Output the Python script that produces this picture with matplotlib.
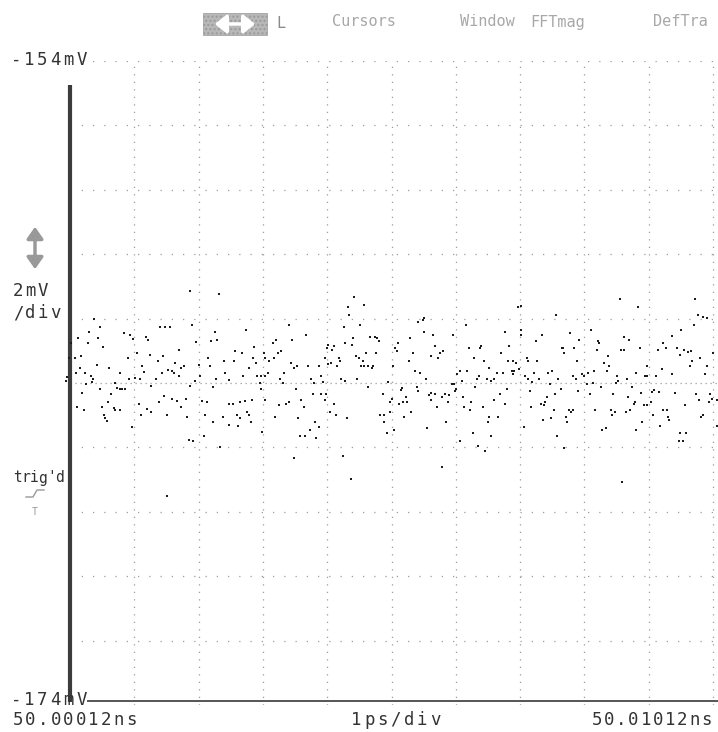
import numpy as np
import matplotlib
matplotlib.use("Agg")
import matplotlib.pyplot as plt
from matplotlib.patches import Rectangle, FancyArrowPatch
from matplotlib.lines import Line2D

W, H = 718, 732

# screen settings (scope readout)
t_left, t_right = "50.00012ns", "50.01012ns"
v_top, v_bot = "-154mV", "-174mV"
v_min, v_max = -174.0, -154.0
n_div = 10
menu = ["Cursors", "Window", "FFTmag", "DefTra"]

# samples: (time in ps from left edge, level in mV)
seg1 = [(1.87,-161.15),(2.32,-161.24),(0.38,-162.01),(1.40,-162.27),(1.48,-162.27),(1.55,-162.27),
        (1.90,-162.19),(0.46,-162.27),(0.29,-162.43),(0.84,-162.45),(0.94,-162.51),(0.98,-162.63),
        (1.18,-162.58),(1.22,-162.65),(0.13,-162.60),(0.43,-162.60),(2.26,-162.43),(2.20,-162.69),
        (2.28,-162.66),(0.02,-162.76),(0.28,-162.76),(1.96,-162.74),(0.51,-162.89),(1.69,-162.98),
        (1.04,-163.07),(0.17,-163.15),(1.25,-163.13),(1.44,-163.15),(-0.01,-163.22),(0.07,-163.23),
        (0.90,-163.22),(2.15,-163.22),(1.37,-163.31),(2.39,-163.31),(1.64,-163.38),(1.77,-163.46),
        (1.73,-163.54),(2.00,-163.43),(0.42,-163.44),(2.18,-163.46),(1.12,-163.46),(0.15,-163.54),
        (0.61,-163.54),(1.53,-163.60),(1.59,-163.64),(1.61,-163.70),(0.09,-163.70),(0.23,-163.70),
        (1.15,-163.67),(1.43,-163.70),(0.77,-163.70),(2.41,-163.70),(0.32,-163.77),(0.35,-163.88),
        (-0.05,-163.80),(1.69,-163.79),(2.02,-163.77),(1.01,-163.84),(2.27,-163.88),(0.91,-163.88),
        (1.34,-163.88),(-0.06,-163.95),(0.34,-163.96),(0.70,-164.01),(1.09,-163.88),(1.95,-163.95),
        (2.47,-163.91),(0.25,-164.03),(1.26,-164.08),(1.87,-164.08),(2.23,-164.11),(0.73,-164.17),
        (0.77,-164.19),(0.81,-164.19),(0.86,-164.19),(0.47,-164.19),(0.19,-164.32),(0.64,-164.34),
        (1.46,-164.41),(1.59,-164.50),(1.66,-164.55),(1.80,-164.50),(1.38,-164.58),(0.59,-164.60),
        (2.05,-164.57),(2.13,-164.60),(2.47,-164.65),(1.07,-164.65),(0.11,-164.76),(1.72,-164.76),
        (0.21,-164.84),(0.50,-164.76),(0.68,-164.79),(0.70,-164.84),(0.78,-164.83),(1.20,-164.81),
        (1.26,-164.89),(1.10,-164.98),(1.51,-164.99),(2.10,-164.99),(0.53,-164.99),(0.55,-165.10),
        (0.58,-165.17),(1.82,-165.07),(2.38,-165.07),(2.22,-165.22),(2.48,-165.30),(0.96,-165.38),
        (2.09,-165.64),(1.85,-165.77),(1.92,-165.79),(2.34,-166.00),(1.51,-167.51)]

seg2 = [(4.42,-161.32),(4.58,-161.57),(4.32,-161.65),(4.34,-161.89),(3.41,-162.20),(4.26,-162.27),
        (4.51,-162.20),(2.73,-162.34),(3.67,-162.51),(3.21,-162.65),(3.15,-162.76),(3.46,-162.66),
        (4.40,-162.60),(4.67,-162.58),(4.74,-162.58),(4.77,-162.60),(4.80,-162.69),(4.27,-162.76),
        (4.38,-162.82),(2.86,-162.89),(4.01,-162.82),(4.11,-162.84),(4.00,-162.91),(4.08,-162.98),
        (2.57,-163.00),(2.67,-163.08),(3.01,-163.08),(3.23,-163.08),(3.28,-163.00),(4.45,-163.15),
        (4.49,-163.22),(4.61,-163.08),(4.76,-163.08),(2.85,-163.22),(3.03,-163.22),(3.10,-163.33),
        (3.17,-163.22),(2.55,-163.33),(3.97,-163.22),(4.18,-163.22),(4.20,-163.33),(4.55,-163.33),
        (2.89,-163.39),(3.43,-163.38),(4.01,-163.41),(4.06,-163.39),(4.16,-163.46),(4.53,-163.46),
        (4.57,-163.46),(4.63,-163.46),(4.71,-163.46),(4.69,-163.54),(3.70,-163.46),(3.88,-163.46),
        (3.53,-163.46),(3.48,-163.54),(5.02,-163.46),(2.79,-163.54),(3.08,-163.70),(3.04,-163.77),
        (3.33,-163.70),(2.69,-163.79),(2.91,-163.79),(2.97,-163.77),(3.27,-163.88),(3.75,-163.88),
        (3.90,-163.79),(4.22,-163.88),(4.28,-163.93),(4.47,-163.88),(2.95,-164.01),(2.97,-164.19),
        (3.31,-164.01),(3.79,-164.01),(3.93,-163.96),(4.63,-164.11),(4.94,-163.96),(3.51,-164.19),
        (3.78,-164.34),(3.91,-164.34),(3.98,-164.34),(4.87,-164.34),(2.53,-164.65),(2.72,-164.55),
        (2.83,-164.52),(3.04,-164.52),(2.64,-164.60),(3.25,-164.67),(3.36,-164.65),(3.40,-164.60),
        (3.60,-164.52),(3.96,-164.52),(4.10,-164.65),(4.98,-164.58),(5.01,-164.50),(3.64,-164.76),
        (4.04,-164.89),(4.14,-164.99),(2.60,-164.99),(2.64,-165.10),(2.76,-164.91),(2.78,-164.99),
        (3.19,-165.07),(3.55,-165.09),(4.31,-165.09),(4.97,-164.91),(4.82,-164.98),(4.88,-164.98),
        (2.81,-165.22),(3.81,-165.22),(4.89,-165.22),(2.61,-165.33),(3.87,-165.38),(3.74,-165.46),
        (4.93,-165.55),(2.98,-165.53),(3.58,-165.64),(3.65,-165.64),(3.83,-165.71),(4.24,-166.28),
        (3.49,-166.34),(4.37,-166.98)]

seg3 = [(6.97,-161.65),(7.01,-161.60),(7.56,-161.88),(5.41,-162.12),(5.49,-162.04),(5.51,-161.99),
        (6.16,-162.20),(5.51,-162.43),(5.65,-162.51),(5.95,-162.51),(6.76,-162.43),(7.01,-162.35),
        (7.02,-162.51),(7.34,-162.51),(5.28,-162.60),(5.10,-162.76),(5.68,-162.84),(6.83,-162.84),
        (7.24,-162.69),(6.39,-162.84),(6.37,-162.92),(5.06,-162.92),(5.09,-163.00),(6.20,-162.91),
        (5.80,-163.00),(5.76,-163.08),(5.33,-163.08),(5.61,-163.15),(5.73,-163.22),(6.70,-163.08),
        (7.65,-162.91),(6.28,-163.22),(6.44,-163.33),(7.10,-163.22),(7.13,-163.33),(7.27,-163.31),
        (5.27,-163.33),(6.81,-163.31),(6.89,-163.33),(6.94,-163.39),(6.52,-163.54),(5.37,-163.64),
        (5.45,-163.70),(6.07,-163.64),(6.18,-163.64),(6.02,-163.72),(6.36,-163.79),(6.33,-163.88),
        (6.64,-163.70),(6.73,-163.70),(6.87,-163.64),(6.91,-163.64),(6.89,-163.72),(6.98,-163.57),
        (7.07,-163.77),(7.21,-163.70),(7.43,-163.70),(7.50,-163.64),(5.53,-163.88),(6.49,-163.88),
        (6.55,-163.93),(6.60,-163.88),(7.12,-163.88),(7.19,-163.96),(7.29,-163.88),(7.59,-163.88),
        (5.94,-164.03),(5.97,-164.03),(6.10,-163.93),(6.30,-164.11),(5.17,-164.17),(5.15,-164.22),
        (5.39,-164.11),(6.01,-164.19),(5.41,-164.26),(6.80,-164.19),(7.16,-164.26),(7.46,-164.03),
        (7.63,-164.19),(5.58,-164.36),(5.61,-164.32),(5.67,-164.34),(5.83,-164.34),(5.89,-164.37),
        (5.23,-164.42),(5.79,-164.45),(5.98,-164.26),(6.69,-164.34),(7.54,-164.34),(7.42,-164.42),
        (5.62,-164.52),(5.18,-164.58),(5.24,-164.60),(5.88,-164.60),(6.59,-164.52),(6.11,-164.45),
        (6.24,-164.60),(5.11,-164.65),(7.32,-164.65),(7.39,-164.60),(7.37,-164.67),(6.77,-164.65),
        (5.70,-164.76),(6.13,-164.76),(6.22,-164.84),(6.42,-164.76),(7.17,-164.76),(7.52,-164.83),
        (5.31,-164.89),(5.20,-165.07),(6.51,-165.07),(6.66,-165.07),(7.48,-165.09),(7.36,-165.15),
        (5.85,-165.22),(6.50,-165.22),(7.06,-165.38),(5.55,-165.40),(5.04,-165.46),(6.26,-165.55),
        (6.55,-165.64),(7.57,-165.64),(6.06,-165.79),(6.34,-165.95),(6.46,-166.10),(5.78,-166.60)]

seg4 = [(8.55,-161.39),(9.72,-161.39),(8.84,-161.65),(9.76,-161.88),(9.85,-161.94),(9.90,-161.99),
        (9.71,-162.19),(8.10,-162.35),(9.51,-162.35),(7.78,-162.45),(8.62,-162.58),(8.70,-162.66),
        (9.36,-162.53),(7.91,-162.66),(8.21,-162.69),(8.22,-162.77),(9.22,-162.76),(7.66,-162.91),
        (7.84,-162.91),(8.87,-162.91),(9.27,-162.91),(9.44,-162.91),(9.55,-162.98),(9.61,-163.03),
        (9.66,-163.02),(7.69,-163.08),(8.20,-162.98),(8.57,-162.98),(8.61,-162.98),(9.14,-162.98),
        (8.37,-163.15),(9.80,-163.22),(9.48,-163.13),(10.00,-163.08),(7.88,-163.33),(8.31,-163.39),
        (8.39,-163.46),(9.67,-163.31),(8.97,-163.46),(9.90,-163.46),(9.21,-163.57),(9.64,-163.46),
        (8.35,-163.64),(8.15,-163.64),(7.82,-163.79),(7.87,-163.88),(7.96,-163.72),(8.00,-163.79),
        (8.06,-163.70),(8.51,-163.79),(8.80,-163.70),(8.94,-163.79),(8.98,-163.79),(9.12,-163.79),
        (9.37,-163.72),(9.88,-163.72),(8.66,-163.88),(8.49,-164.01),(8.52,-163.93),(8.04,-164.03),
        (8.13,-164.01),(8.26,-164.11),(7.90,-164.26),(8.74,-164.11),(8.08,-164.34),(8.45,-164.34),
        (8.88,-164.32),(9.05,-164.27),(9.09,-164.22),(9.16,-164.27),(9.41,-164.32),(9.73,-164.34),
        (9.96,-164.34),(8.68,-164.45),(9.79,-164.52),(8.79,-164.60),(8.77,-164.65),(8.93,-164.67),
        (8.98,-164.67),(9.03,-164.60),(9.56,-164.67),(9.94,-164.58),(9.99,-164.50),(10.06,-164.53),
        (7.76,-164.83),(7.79,-164.91),(7.83,-164.83),(8.17,-164.83),(8.41,-164.83),(8.47,-164.89),
        (8.43,-164.99),(8.65,-164.89),(8.71,-164.83),(9.23,-164.83),(9.28,-164.84),(9.07,-164.99),
        (7.72,-165.07),(7.73,-165.22),(9.30,-165.07),(9.31,-165.15),(9.81,-165.07),(9.84,-164.99),
        (10.06,-165.33),(8.90,-165.22),(9.18,-165.33),(8.27,-165.46),(8.33,-165.40),(8.81,-165.46),
        (9.49,-165.55),(9.58,-165.55),(9.47,-165.79),(9.54,-165.79),(7.68,-166.02),(8.59,-167.06)]

pts = np.array(seg1 + seg2 + seg3 + seg4)
t_ps = pts[:, 0]
v_mv = pts[:, 1]

fig = plt.figure(figsize=(W / 100, H / 100), dpi=100)
fig.patch.set_facecolor("white")

# plot area: x 70..718 px, y 61..705 px
ax = fig.add_axes([70 / W, 27 / H, 648 / W, 644 / H])
ax.set_xlim(0, 648 / 64.3)
ax.set_ylim(v_min, v_max)
ax.axis("off")

grid_c = "#9c9c9c"
for k in range(1, n_div + 1):
    ax.axvline(k, color=grid_c, lw=0.9, ls=(0, (1, 5)))
for lv in np.arange(v_min + 2, v_max + 1, 2):
    if lv == -164:
        ax.axhline(lv, color=grid_c, lw=0.9, ls=(0, (1, 3)))
    else:
        ax.axhline(lv, color=grid_c, lw=0.9, ls=(0, (1, 8)))

# left axis bar and bottom rule
ax.plot([0, 0], [-154.75, -173.9], color="#3c3c3c", lw=3, solid_capstyle="butt", clip_on=False)
ax.plot([0.28, 648 / 64.3], [-173.88, -173.88], color="#555555", lw=1.4, clip_on=False)

ax.scatter(t_ps, v_mv, s=3, marker="s", c="#1c1c1c", linewidths=0, clip_on=False, zorder=3)


def screen_text(x0, y0, s, pitch, size=12.5, color="#333333"):
    # fixed-pitch placement like the scope's bitmap font
    for i, ch in enumerate(s):
        fig.text((x0 + i * pitch) / W, 1 - y0 / H, ch, ha="center", va="center",
                 family="DejaVu Sans Mono", fontsize=size, color=color)


screen_text(16, 60, v_top, 13.2)
screen_text(16, 700, v_bot, 13.2)
screen_text(18, 720, t_left, 12.6)
screen_text(356, 720, "1ps/div", 13.2)
screen_text(597, 720, t_right, 12.2)
screen_text(18, 291, "2mV", 12.5)
screen_text(18, 313, "/div", 12.5)
screen_text(17, 478, "trig'd", 8.6, size=10.5)

# vertical scale arrow icon
fig.patches.append(FancyArrowPatch((35 / W, 1 - 272 / H), (35 / W, 1 - 224 / H),
                                   transform=fig.transFigure, arrowstyle="<|-|>,head_length=0.5,head_width=0.35",
                                   mutation_scale=14, color="#999999", lw=2.5))
# trigger slope icon
fig.lines.append(Line2D(np.array([26, 33, 37, 44]) / W, 1 - np.array([497, 497, 490, 490]) / H,
                        transform=fig.transFigure, color="#999999", lw=1))
fig.text(35 / W, 1 - 512 / H, "T", ha="center", va="center", family="DejaVu Sans Mono",
         fontsize=7, color="#999999")

# top menu bar
fig.patches.append(Rectangle((203 / W, 1 - 35 / H), 64 / W, 22 / H, transform=fig.transFigure,
                             facecolor="#b8b8b8", edgecolor="#9a9a9a", hatch="....", lw=0.5))
fig.patches.append(FancyArrowPatch((212 / W, 1 - 24 / H), (258 / W, 1 - 24 / H),
                                   transform=fig.transFigure, arrowstyle="<|-|>,head_length=0.5,head_width=0.4",
                                   mutation_scale=14, color="white", lw=2.5))
fig.text(276 / W, 1 - 23 / H, "L", ha="left", va="center", family="DejaVu Sans Mono",
         fontsize=11, color="#8a8a8a")
for name, xm in zip(menu, [332, 460, 530, 653]):
    fig.text(xm / W, 1 - 22 / H, name, ha="left", va="center", family="DejaVu Sans Mono",
             fontsize=11, color="#a8a8a8")

fig.savefig("out.png", dpi=100, facecolor="white")
